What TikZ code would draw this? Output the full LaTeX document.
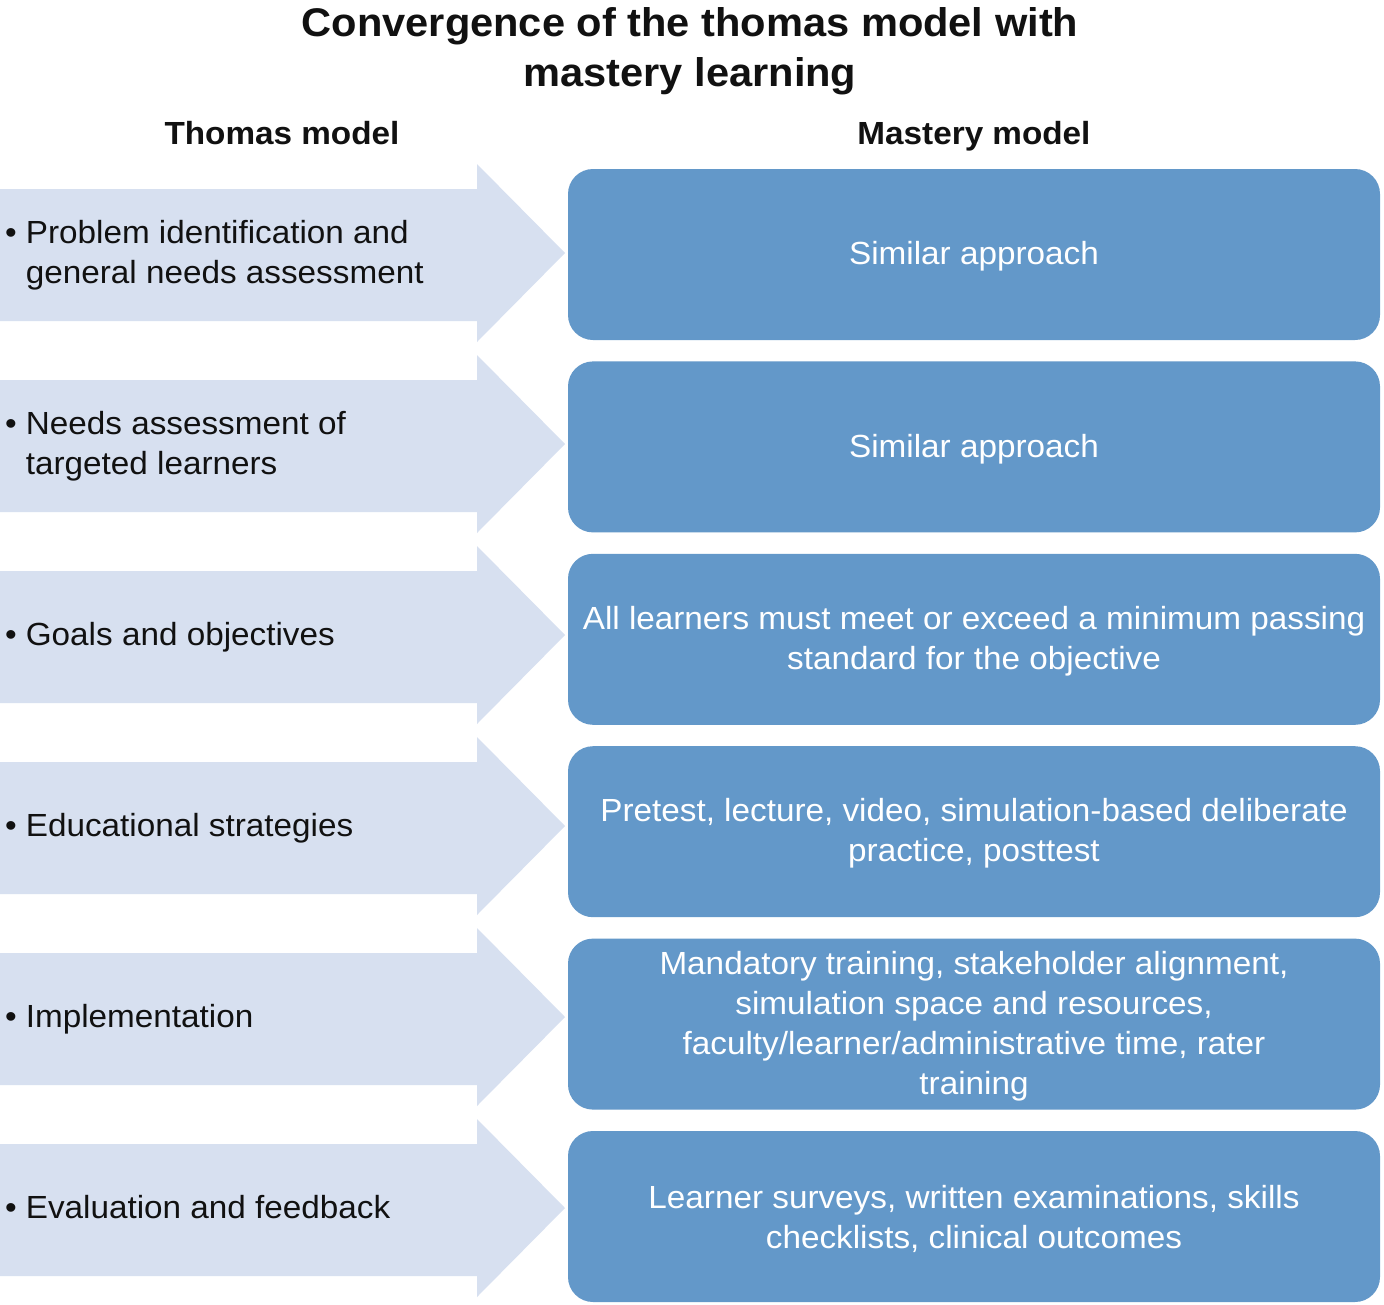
\documentclass[tikz,border=0pt]{standalone}
\usepackage{fontspec}
\setmainfont{Liberation Sans}[FakeStretch=1.04]
\definecolor{arrowfill}{HTML}{D7E0F0}
\definecolor{boxfill}{HTML}{6398C9}
\definecolor{inktext}{HTML}{111111}
\tikzset{
  thomarrow/.style={fill=arrowfill, draw=none},
  mbox/.style={fill=boxfill, draw=none, rounded corners=25pt},
  lefttext/.style={anchor=west, align=left, inner sep=0pt, text=inktext,
    font=\fontsize{32}{40}\selectfont},
  boxtext/.style={align=center, inner sep=0pt, text=white,
    font=\fontsize{32}{40}\selectfont},
  titletext/.style={align=center, inner sep=0pt, text=inktext,
    font=\fontsize{40}{50}\selectfont\bfseries},
  headtext/.style={anchor=base, inner sep=0pt, text=inktext,
    font=\fontsize{32}{40}\selectfont\bfseries},
}
\newcommand{\bul}[1]{\begin{tabular}{@{}l@{\hspace{9pt}}l@{}}\textbullet&#1\end{tabular}}
\begin{document}
\begin{tikzpicture}[x=1pt,y=-1pt]
\useasboundingbox[fill=white] (0,0) rectangle (1384,1304);
\node[titletext] (title) at (690,51) {Convergence of the thomas model with\\mastery learning};
\node[headtext] (hthomas) at (282,144) {Thomas model};
\node[headtext] (hmastery) at (974,144) {Mastery model};
\foreach \i/\lt/\rt in {
  0/{Problem identification and\\&general needs assessment}/{Similar approach},
  1/{Needs assessment of\\&targeted learners}/{Similar approach},
  2/{Goals and objectives}/{All learners must meet or exceed a minimum passing\\standard for the objective},
  3/{Educational strategies}/{Pretest, lecture, video, simulation-based deliberate\\practice, posttest},
  4/{Implementation}/{Mandatory training, stakeholder alignment,\\simulation space and resources,\\faculty/learner/administrative time, rater\\training},
  5/{Evaluation and feedback}/{Learner surveys, written examinations, skills\\checklists, clinical outcomes}}
{
  \pgfmathsetmacro{\ty}{253+191*\i}
  \pgfmathsetmacro{\by}{254.5+192.4*\i}
  \fill[thomarrow] (0,\ty-64) -- (477,\ty-64) -- (477,\ty-89) -- (565,\ty)
     -- (477,\ty+89) -- (477,\ty+68) -- (0,\ty+68) -- cycle;
  \fill[mbox] (568,\by-85.5) rectangle (1380,\by+85.5);
  \node[lefttext] (t\i) at (5,\ty+2) {\bul{\lt}};
  \node[boxtext] (m\i) at (974,\by+2) {\rt};
}
\end{tikzpicture}
\end{document}
